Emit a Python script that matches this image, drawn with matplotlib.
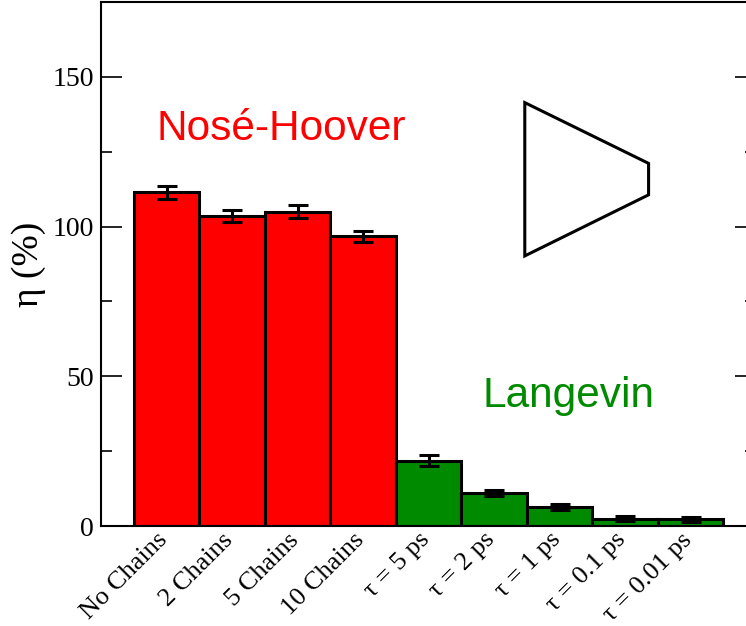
import matplotlib
matplotlib.use("Agg")
import matplotlib.pyplot as plt
from matplotlib.patches import Polygon
from matplotlib.ticker import MultipleLocator
from matplotlib.transforms import ScaledTranslation

labels = ["No Chains", "2 Chains", "5 Chains", "10 Chains",
          "τ = 5 ps", "τ = 2 ps", "τ = 1 ps", "τ = 0.1 ps", "τ = 0.01 ps"]
eta = [111.5, 103.5, 105.0, 96.8, 21.8, 10.9, 6.35, 2.4, 2.2]
eta_err = [2.2, 2.0, 2.1, 1.8, 1.8, 1.0, 0.9, 0.8, 0.8]
groups = ["nh"] * 4 + ["lang"] * 5
group_colors = {"nh": "#ff0000", "lang": "#008a00"}

# funnel sketch drawn inside the plot
funnel = [(6.47, 141.4), (8.36, 121.1), (8.36, 110.6), (6.47, 90.2)]

plt.rcParams["font.family"] = ["Liberation Serif", "DejaVu Serif"]

fig = plt.figure(figsize=(7.46, 6.26), dpi=100)
ax = fig.add_axes([101 / 746, 1 - 526 / 626, 655 / 746, 524 / 626])

x = list(range(1, len(eta) + 1))
ax.bar(x, eta, width=1.0, color=[group_colors[g] for g in groups],
       edgecolor="black", linewidth=2.2, zorder=2)
ax.errorbar(x, eta, yerr=eta_err, fmt="none", ecolor="black",
            elinewidth=2.2, capsize=7, capthick=2.2, zorder=3)

ax.add_patch(Polygon(funnel, closed=True, fill=False,
                     edgecolor="black", linewidth=2.2, zorder=2))

ax.text(0.84, 128.9, "Nosé-Hoover", color="#ff0000", fontsize=30.5,
        family="Liberation Sans", ha="left", va="baseline")
ax.text(5.83, 39.7, "Langevin", color="#008a00", fontsize=30.5,
        family="Liberation Sans", ha="left", va="baseline")

ax.set_xlim(0, 10)
ax.set_ylim(0, 175)
ax.set_xticks(x)
ax.set_xticklabels(labels, rotation=45, ha="right", rotation_mode="anchor",
                   fontsize=19)
ax.tick_params(axis="x", length=0, pad=2)
shift = ScaledTranslation(-0.1, 0, fig.dpi_scale_trans)
for lbl in ax.get_xticklabels():
    lbl.set_transform(lbl.get_transform() + shift)

ax.yaxis.set_major_locator(MultipleLocator(50))
ax.yaxis.set_minor_locator(MultipleLocator(25))
ax.tick_params(axis="y", which="both", direction="in", right=True,
               labelsize=20, width=1.2, pad=5)
ax.tick_params(axis="y", which="major", length=15)
ax.tick_params(axis="y", which="minor", length=8)
ax.set_ylabel("η (%)", fontsize=27, va="center")
ax.yaxis.set_label_coords(-0.111, 0.5)
for s in ax.spines.values():
    s.set_linewidth(1.5)

fig.savefig("out.png", dpi=100)
